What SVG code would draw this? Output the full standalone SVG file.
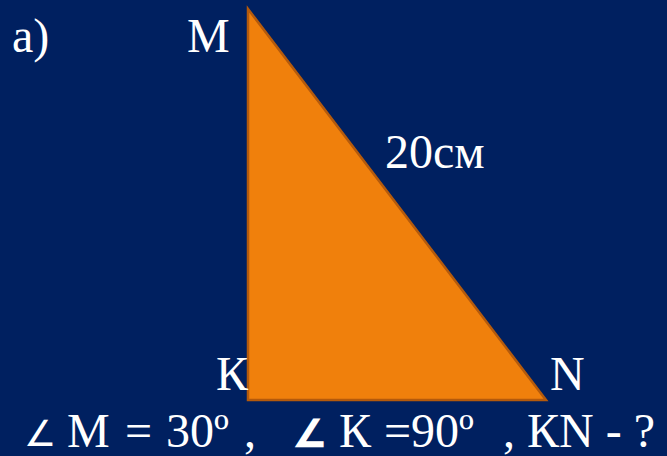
<svg xmlns="http://www.w3.org/2000/svg" width="667" height="456" viewBox="0 0 667 456">
<style>
.t{font-family:"Liberation Serif","Times New Roman",serif;font-size:48px;fill:#ffffff}
.a{font-family:"DejaVu Sans",sans-serif;font-size:36px;fill:#ffffff}
</style>
<rect x="0" y="0" width="667" height="456" fill="#002060"/>
<g id="triangle">
<polygon points="248,9 248,400 546,400" fill="#F0800C" stroke="#B45A0C" stroke-width="2.5" stroke-linejoin="miter"/>
</g>
<g id="labels">
<text class="t" x="12" y="52">a)</text>
<text class="t" x="187" y="52">M</text>
<text class="t" x="385" y="168">20см</text>
<text class="t" x="216" y="390">К</text>
<text class="t" x="550" y="390">N</text>
</g>
<g id="question">
<text class="a" x="24" y="446">∠</text>
<text class="t" x="67" y="447">M</text>
<text class="t" x="125" y="447">=</text>
<text class="t" x="166" y="447">30º</text>
<text class="t" x="244" y="447">,</text>
<text class="a" x="294" y="446" stroke="#ffffff" stroke-width="2.5">∠</text>
<text class="t" x="339" y="447">К</text>
<text class="t" x="384" y="447">=90º</text>
<text class="t" x="503" y="447">, КN - ?</text>
</g>
</svg>
